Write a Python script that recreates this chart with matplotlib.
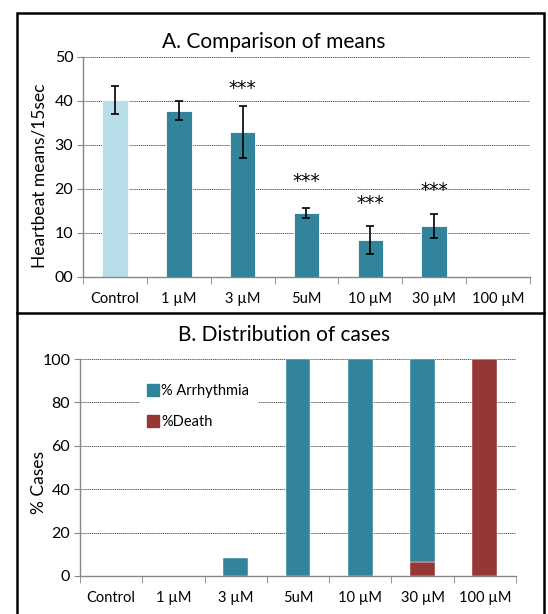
import numpy as np
import matplotlib.pyplot as plt
from matplotlib.patches import Rectangle
from matplotlib.lines import Line2D
import matplotlib.ticker as ticker

# Data
groups = ['Control', '1 µM', '3 µM', '5uM', '10 µM', '30 µM', '100 µM']
heartbeat = [40.2, 37.7, 32.9, 14.6, 8.4, 11.6, 0]
hb_low = [37.0, 35.7, 27.0, 13.5, 5.2, 8.9, 0]
hb_high = [43.5, 40.1, 38.8, 15.7, 11.6, 14.4, 0]
star_y = [None, None, 42.8, 21.7, 16.8, 19.6, None]
a_yticks = [0, 10, 20, 30, 40, 50]
a_yticklabels = ['00', '10', '20', '30', '40', '50']
b_yticks = [0, 20, 40, 60, 80, 100]

arrhythmia = [0, 0, 8.5, 100, 100, 93.5, 0]
death = [0, 0, 0, 0, 0, 6.5, 100]

# Colours
c_light = '#b7dde8'
c_teal = '#31849b'
c_red = '#953735'
c_axis = '#868686'

plt.rcParams['font.family'] = ['Lato', 'DejaVu Sans']

fig = plt.figure(figsize=(5.48, 6.14), dpi=100)

def style_axes(ax, ymax, yticks):
    ax.set_xlim(-0.5, 6.5)
    ax.set_ylim(0, ymax)
    for s in ['top', 'right']:
        ax.spines[s].set_visible(False)
    for s in ['left', 'bottom']:
        ax.spines[s].set_color(c_axis)
        ax.spines[s].set_linewidth(1.0)
    ax.set_yticks(yticks)
    ax.grid(axis='y', color='#444444', linestyle=(0, (1.5, 0.8)), linewidth=0.6)
    ax.set_axisbelow(True)
    ax.set_xticks(range(len(groups)))
    ax.set_xticklabels(groups, fontsize=10.5)
    ax.xaxis.set_minor_locator(ticker.FixedLocator(np.arange(-0.5, 7, 1)))
    ax.tick_params(axis='x', which='major', length=0, pad=11)
    ax.tick_params(axis='x', which='minor', length=5, color=c_axis, direction='out')
    ax.tick_params(axis='y', length=4, color=c_axis, labelsize=11.5, pad=3)

# Panel A
ax1 = fig.add_axes([0.1515, 0.5489, 0.8155, 0.3583])
x = np.arange(len(groups))
colors = [c_light] + [c_teal] * 6
ax1.bar(x, heartbeat, width=0.4, color=colors, edgecolor='white', linewidth=0.6, zorder=2)
for i in range(len(groups) - 1):
    ax1.errorbar(x[i], heartbeat[i],
                 yerr=[[heartbeat[i] - hb_low[i]], [hb_high[i] - heartbeat[i]]],
                 fmt='none', ecolor='black', elinewidth=1.2, capsize=3, capthick=1.2, zorder=3)
for i, sy in enumerate(star_y):
    if sy is not None:
        ax1.text(x[i], sy, '***', ha='center', va='center', fontsize=13.5, family='DejaVu Sans')
style_axes(ax1, 50, a_yticks)
ax1.set_yticklabels(a_yticklabels)
ax1.set_ylabel('Heartbeat means/15sec', fontsize=12.5)
ax1.yaxis.set_label_coords(-0.08, 0.46)
fig.text(0.5, 0.931, 'A. Comparison of means', ha='center', va='center', fontsize=15)

# Panel B
ax2 = fig.add_axes([0.146, 0.0619, 0.7956, 0.3534])
ax2.bar(x, death, width=0.4, color=c_red, edgecolor='white', linewidth=0.3, zorder=2)
ax2.bar(x, arrhythmia, width=0.4, bottom=death, color=c_teal, edgecolor='white', linewidth=0.3,
        zorder=2)
style_axes(ax2, 100, b_yticks)
ax2.set_ylabel('% Cases', fontsize=12.5)
ax2.yaxis.set_label_coords(-0.076, 0.43)
fig.text(0.518, 0.455, 'B. Distribution of cases', ha='center', va='center', fontsize=15)

handles = [Line2D([], [], marker='s', linestyle='none', markersize=8, color=c_teal),
           Line2D([], [], marker='s', linestyle='none', markersize=8, color=c_red)]
leg = ax2.legend(handles, ['% Arrhythmia', '%Death'], loc='upper left',
                 bbox_to_anchor=(0.12, 0.96), frameon=True, fancybox=False,
                 edgecolor='none', facecolor='white', framealpha=1, fontsize=10.5,
                 handlelength=0.6, handletextpad=0.3, labelspacing=1.2,
                 borderpad=0.6)
leg.set_zorder(5)

# Outer frame and divider
fig.patches.append(Rectangle((0.031, -0.05), 0.9617, 0.0288 + 1.0, transform=fig.transFigure,
                             fill=False, edgecolor='black', linewidth=1.8))
fig.lines.append(Line2D([0.031, 0.9927], [0.4902, 0.4902], transform=fig.transFigure,
                        color='black', linewidth=1.8))

fig.savefig('out.png', dpi=100)
